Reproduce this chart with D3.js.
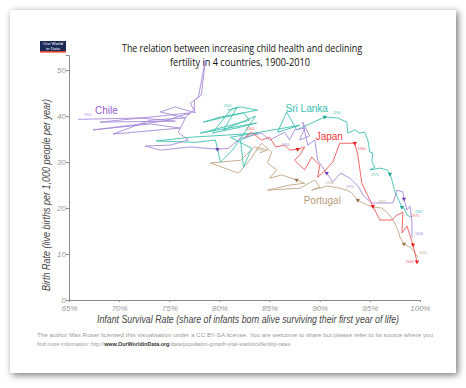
<!DOCTYPE html>
<html>
<head>
<meta charset="utf-8">
<script src="https://cdn.jsdelivr.net/npm/d3@7"></script>
<style>
body { margin: 0; background: #fff; }
svg text { font-family: "Liberation Sans", Arial, sans-serif; }
</style>
</head>
<body>
<div id="chart"></div>
<script>
// [infant survival %, birth rate per 1,000], in path order
const chile = [[65.9,39.3],[72.1,39.6],[75.6,38.9],[68.1,38.7],[73.1,39.8],[77.1,40.7],[74.4,38.9],[67.4,37.0],
	[73.1,38.3],[76.1,37.4],[69.4,36.1],[73.1,39.1],[76.6,39.6],[74.1,40.9],[75.6,42.0],[77.6,40.7],[77.1,42.8],
	[77.9,44.1],[78.6,52.2],[78.2,44.6],[77.5,43.5],[77.5,41.3],[76.7,40.0],[75.9,36.5],[76.9,34.8],[75.1,33.7],
	[72.6,33.5],[74.1,32.6],[77.1,33.3],[79.8,32.8],[80.9,33.0],[82.1,35.2],[84.2,36.3],[85.0,34.8],[86.5,36.5],
	[87.0,34.8],[87.5,37.0],[88.5,37.4],[88.0,34.8],[89.0,35.7],[88.3,38.7],[88.8,33.7],[89.5,34.8],[89.8,30.4],
	[90.7,27.6],[91.3,25.7],[92.1,27.6],[93.0,26.5],[93.8,24.8],[94.4,22.6],[95.2,21.1],[97.3,21.1],[97.7,23.9],
	[98.3,23.5],[98.4,22.0],[98.7,19.6],[99.0,20.4],[99.2,17.0],[99.2,13.5]];
const sriLanka = [[80.8,41.3],[82.1,42.0],[83.8,41.3],[80.1,39.8],[78.4,38.7],[82.4,40.7],[83.0,39.1],[78.1,36.3],
	[83.7,38.5],[82.1,37.6],[79.3,36.3],[81.1,41.3],[81.8,42.0],[80.4,37.0],[83.6,40.0],[81.3,32.6],[80.1,30.0],
	[79.6,34.8],[77.6,34.3],[73.7,34.6],[77.1,35.4],[83.8,36.3],[82.1,34.8],[82.4,28.9],[83.2,33.0],[81.1,35.4],
	[88.0,38.0],[85.8,36.5],[86.7,40.9],[87.7,37.0],[90.5,39.8],[91.8,39.6],[92.7,38.7],[92.8,36.3],[93.5,37.0],
	[94.0,36.3],[94.5,36.5],[94.8,34.8],[95.0,32.2],[95.3,32.0],[95.2,30.0],[95.5,28.9],[95.0,28.3],[96.0,28.7],
	[96.7,28.3],[97.0,27.4],[97.2,26.1],[97.5,23.5],[98.2,20.2],[98.4,20.0],[98.7,18.5],[99.1,18.0]];
const japan = [[82.6,35.4],[83.2,36.5],[84.2,34.8],[85.0,35.4],[85.6,33.3],[86.5,33.7],[87.0,32.6],[87.8,32.8],
	[88.5,33.3],[88.0,31.5],[87.5,30.4],[88.5,28.3],[89.2,31.1],[90.0,29.3],[89.8,26.7],[90.6,28.3],[91.3,30.0],
	[92.0,34.1],[93.5,34.1],[93.8,31.5],[94.2,25.4],[95.3,20.4],[96.0,17.4],[97.2,17.4],[97.7,18.5],[98.3,19.1],
	[98.2,14.6],[98.7,16.1],[99.3,12.0],[99.7,8.3]];
const portugal = [[84.0,32.0],[84.8,32.6],[83.5,33.3],[82.1,30.4],[79.1,29.8],[81.9,27.6],[83.0,30.4],[84.2,34.1],
	[85.2,32.2],[84.8,29.8],[85.7,28.3],[85.0,26.5],[86.2,27.2],[87.7,26.1],[88.5,25.4],[87.0,25.0],[84.8,23.9],
	[88.0,24.3],[89.5,26.1],[90.0,24.6],[89.2,23.9],[90.8,24.8],[92.0,24.3],[92.7,23.9],[93.2,23.3],[93.8,21.7],
	[94.7,20.7],[95.3,20.2],[96.2,20.0],[96.8,18.9],[97.3,17.4],[97.8,15.2],[98.0,13.7],[98.4,12.2],[99.0,11.5],
	[99.3,10.9],[99.8,9.3]];

// arrowhead markers along each path
const chileMarks = [[79.8,32.8],[90.7,27.6],[98.4,22.0]];
const sriLankaMarks = [[90.5,39.8],[97.0,27.4],[98.2,20.2]];
const japanMarks = [[87.8,32.8],[93.5,34.1],[95.3,20.4],[99.3,12.0],[99.7,8.3]];
const portugalMarks = [[87.7,26.1],[93.8,21.7],[98.4,12.2]];

// small year labels: [text, survival, birth rate]
const chileYears = [["1901",66.9,40.0],["1950",86.6,33.6],["1970",93.0,24.4],["2008",99.9,14.2]];
const sriLankaYears = [["1901",80.8,41.9],["1950",91.7,40.5],["1975",95.5,27.0],["2007",99.9,18.9]];
const japanYears = [["1900",83.1,36.9],["1960",94.2,32.6],["1975",99.5,18.0],["2009",99.0,8.0]];
const portugalYears = [["1910",84.0,32.4],["1950",91.0,25.2],["1975",96.2,21.2],["2010",100.3,9.9]];

const countries = ["Chile", "Sri Lanka", "Japan", "Portugal"];
const colors = ["#a689da", "#3dbfb0", "#f25656", "#c2a585"];
const darkColors = ["#6f3fb5", "#15a596", "#ee1c1c", "#9a7449"];
const labelColors = ["#9560cf", "#36bdb0", "#f03838", "#b99b7a"];
const labelPos = [[67.6,40.4],[86.6,41.0],[89.6,34.8],[88.4,20.9]];

const xTicks = [65, 70, 75, 80, 85, 90, 95, 100];
const yTicks = [0, 10, 20, 30, 40, 50];

const series = [chile, sriLanka, japan, portugal];
const marks = [chileMarks, sriLankaMarks, japanMarks, portugalMarks];
const years = [chileYears, sriLankaYears, japanYears, portugalYears];

const W = 466, H = 388;
const svg = d3.select("#chart").append("svg")
	.attr("width", W)
	.attr("height", H);

// card with drop shadow
const filter = svg.append("defs").append("filter")
	.attr("id", "shadow")
	.attr("x", "-10%").attr("y", "-10%")
	.attr("width", "120%").attr("height", "120%");
filter.append("feDropShadow")
	.attr("dx", 2).attr("dy", 2)
	.attr("stdDeviation", 3.5)
	.attr("flood-color", "#000")
	.attr("flood-opacity", 0.55);

svg.append("rect")
	.attr("x", 10).attr("y", 10)
	.attr("width", 446).attr("height", 363)
	.attr("fill", "#fff")
	.attr("filter", "url(#shadow)");

// logo
svg.append("rect").attr("x", 40).attr("y", 41).attr("width", 26).attr("height", 10).attr("fill", "#1b2a57");
svg.append("rect").attr("x", 40).attr("y", 51).attr("width", 26).attr("height", 1.6).attr("fill", "#e2402a");
svg.append("text").attr("x", 53).attr("y", 45.3).attr("text-anchor", "middle")
	.attr("font-size", 4.4).attr("fill", "#fff").text("Our World");
svg.append("text").attr("x", 53).attr("y", 49.8).attr("text-anchor", "middle")
	.attr("font-size", 4.4).attr("fill", "#fff").text("in Data");

// title
const title = svg.append("text")
	.attr("text-anchor", "middle")
	.attr("font-size", 10.5)
	.attr("fill", "#111")
	.style("font-family", "'Open Sans', sans-serif");
title.append("tspan").attr("x", 242).attr("y", 52)
	.attr("textLength", 240).attr("lengthAdjust", "spacingAndGlyphs")
	.text("The relation between increasing child health and declining");
title.append("tspan").attr("x", 240).attr("y", 66)
	.attr("textLength", 140).attr("lengthAdjust", "spacingAndGlyphs")
	.text("fertility in 4 countries, 1900-2010");

const xScale = d3.scaleLinear().domain([65, 100]).range([69, 420]);
const yScale = d3.scaleLinear().domain([0, 53.3]).range([300, 55]);

// axes
const xAxis = svg.append("g")
	.attr("transform", "translate(0,300)")
	.call(d3.axisBottom(xScale).tickValues(xTicks).tickSize(2).tickFormat(d => d + "%"));
const yAxis = svg.append("g")
	.attr("transform", "translate(69,0)")
	.call(d3.axisLeft(yScale).tickValues(yTicks).tickSize(3));
[xAxis, yAxis].forEach(a => {
	a.select(".domain").attr("stroke", "#8a8a8a").attr("stroke-width", 1);
	a.selectAll(".tick line").attr("stroke", "#8a8a8a");
	a.selectAll(".tick text")
		.attr("fill", "#999")
		.attr("font-size", 8)
		.attr("font-style", "italic")
		.style("font-family", "'Liberation Sans', Arial, sans-serif");
});
xAxis.selectAll(".tick text").attr("y", 5.5).attr("dy", "0.71em");
yAxis.selectAll(".tick text").attr("x", -3).attr("dy", "0.25em");

// axis titles
svg.append("text")
	.attr("x", 248).attr("y", 322.5)
	.attr("text-anchor", "middle")
	.attr("font-size", 10)
	.attr("font-style", "italic")
	.attr("fill", "#444")
	.attr("textLength", 302).attr("lengthAdjust", "spacingAndGlyphs")
	.text("Infant Survival Rate (share of infants born alive surviving their first year of life)");
svg.append("text")
	.attr("transform", "translate(50,195) rotate(-90)")
	.attr("text-anchor", "middle")
	.attr("font-size", 10)
	.attr("font-style", "italic")
	.attr("fill", "#444")
	.attr("textLength", 192).attr("lengthAdjust", "spacingAndGlyphs")
	.text("Birth Rate (live births per 1,000 people per year)");

// lines
const line = d3.line()
	.x(d => xScale(d[0]))
	.y(d => yScale(d[1]));

const order = [3, 1, 0, 2];
order.forEach(i => {
	svg.append("path")
		.datum(series[i])
		.attr("fill", "none")
		.attr("stroke", colors[i])
		.attr("stroke-width", 0.9)
		.attr("stroke-linejoin", "round")
		.attr("d", line);
});

// markers
const tri = d3.symbol().type(d3.symbolTriangle).size(8);
order.forEach(i => {
	svg.selectAll(null)
		.data(marks[i])
		.enter().append("path")
		.attr("d", tri)
		.attr("fill", darkColors[i])
		.attr("transform", d => "translate(" + xScale(d[0]) + "," + yScale(d[1]) + ") rotate(180)");
});

// year labels
order.forEach(i => {
	svg.selectAll(null)
		.data(years[i])
		.enter().append("text")
		.attr("x", d => xScale(d[1]))
		.attr("y", d => yScale(d[2]))
		.attr("text-anchor", "middle")
		.attr("font-size", 3.6)
		.attr("fill", colors[i])
		.text(d => d[0]);
});

// country labels
countries.forEach((c, i) => {
	svg.append("text")
		.attr("x", xScale(labelPos[i][0]))
		.attr("y", yScale(labelPos[i][1]))
		.attr("font-size", 10)
		.attr("fill", labelColors[i])
		.text(c);
});

// footer
const foot = svg.append("text")
	.attr("font-size", 5.4)
	.attr("fill", "#9a9a9a");
foot.append("tspan").attr("x", 37).attr("y", 337)
	.attr("textLength", 396).attr("lengthAdjust", "spacingAndGlyphs")
	.text("The author Max Roser licensed this visualisation under a CC BY-SA license. You are welcome to share but please refer to its source where you");
const l2 = foot.append("tspan").attr("x", 37).attr("y", 345.5);
l2.append("tspan").text("find more information: http://");
l2.append("tspan").attr("fill", "#333").attr("font-weight", "bold").text("www.OurWorldinData.org");
l2.append("tspan").text("/data/population-growth-vital-statistics/fertility-rates");
</script>
</body>
</html>
